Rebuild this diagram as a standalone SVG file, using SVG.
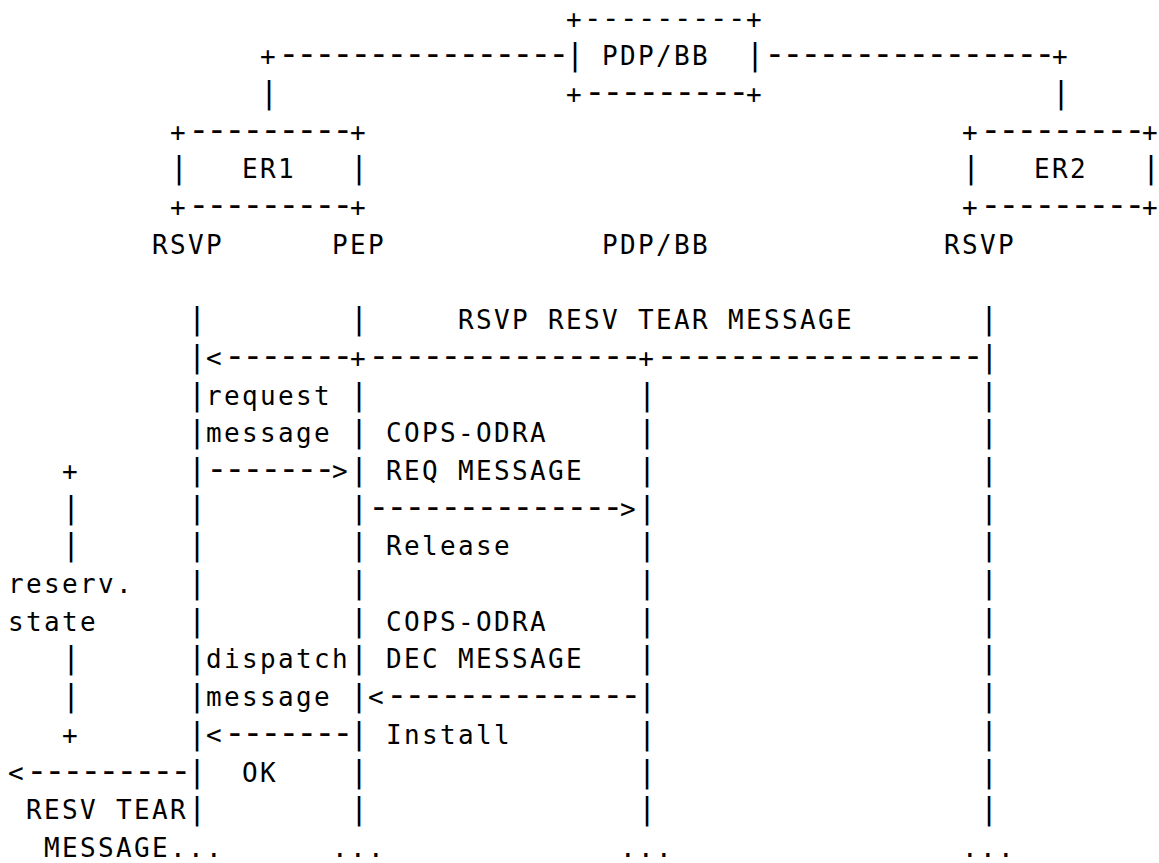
<svg xmlns="http://www.w3.org/2000/svg" width="1159" height="863" viewBox="0 0 1159 863">
  <style>
    /* monospaced grid: 18px per column, 37.7px per row */
    text { font-family: "DejaVu Sans Mono", "Liberation Mono", monospace; font-size: 26px; letter-spacing: 2.35px; fill: #000; white-space: pre; }
    /* dash runs and bars are set larger, kept on the same 18px pitch */
    .d { font-size: 36px; letter-spacing: -3.67px; }
    .d0 { font-size: 29px; letter-spacing: 0.54px; }
    .b { font-size: 30px; letter-spacing: -0.06px; }
  </style>
  <rect width="1159" height="863" fill="#fff"/>

  <!-- policy decision point / bandwidth broker -->
  <g id="pdp-bb">
    <text x="566" y="27.5">+<tspan class="d0">---------</tspan>+</text>
    <text x="566" y="65.2"><tspan class="b">|</tspan> PDP/BB  <tspan class="b">|</tspan></text>
    <text x="566" y="102.9">+<tspan class="d">---------</tspan>+</text>
  </g>

  <!-- edge router 1 -->
  <g id="er1">
    <text x="170" y="140.6">+<tspan class="d">---------</tspan>+</text>
    <text x="170" y="178.3"><tspan class="b">|</tspan>   ER1   <tspan class="b">|</tspan></text>
    <text x="170" y="216">+<tspan class="d">---------</tspan>+</text>
  </g>

  <!-- edge router 2 -->
  <g id="er2">
    <text x="962" y="140.6">+<tspan class="d">---------</tspan>+</text>
    <text x="962" y="178.3"><tspan class="b">|</tspan>   ER2   <tspan class="b">|</tspan></text>
    <text x="962" y="216">+<tspan class="d">---------</tspan>+</text>
  </g>

  <!-- column headings -->
  <g id="headings">
    <text x="152" y="253.7">RSVP</text>
    <text x="332" y="253.7">PEP</text>
    <text x="602" y="253.7">PDP/BB</text>
    <text x="944" y="253.7">RSVP</text>
  </g>

  <g id="connectors">
    <!-- links from the routers to PDP/BB -->
    <text x="260" y="65.2">+<tspan class="d">----------------</tspan></text>
    <text x="764" y="65.2"><tspan class="d">----------------</tspan>+</text>
    <text class="b" x="260" y="102.9">|</text>
    <text class="b" x="1052" y="102.9">|</text>

    <!-- lifeline: RSVP at ER1 -->
    <text class="b" x="188" y="329.1">|</text>
    <text class="b" x="188" y="404.5">|</text>
    <text class="b" x="188" y="442.2">|</text>
    <text class="b" x="188" y="517.6">|</text>
    <text class="b" x="188" y="555.3">|</text>
    <text class="b" x="188" y="593">|</text>
    <text class="b" x="188" y="630.7">|</text>
    <text class="b" x="188" y="668.4">|</text>
    <text class="b" x="188" y="706.1">|</text>
    <text class="b" x="188" y="819.2">|</text>

    <!-- lifeline: PEP -->
    <text class="b" x="350" y="329.1">|</text>
    <text class="b" x="350" y="404.5">|</text>
    <text class="b" x="350" y="442.2">|</text>
    <text class="b" x="350" y="555.3">|</text>
    <text class="b" x="350" y="593">|</text>
    <text class="b" x="350" y="630.7">|</text>
    <text class="b" x="350" y="668.4">|</text>
    <text class="b" x="350" y="781.5">|</text>
    <text class="b" x="350" y="819.2">|</text>

    <!-- lifeline: PDP/BB -->
    <text class="b" x="638" y="404.5">|</text>
    <text class="b" x="638" y="442.2">|</text>
    <text class="b" x="638" y="479.9">|</text>
    <text class="b" x="638" y="555.3">|</text>
    <text class="b" x="638" y="593">|</text>
    <text class="b" x="638" y="630.7">|</text>
    <text class="b" x="638" y="668.4">|</text>
    <text class="b" x="638" y="743.8">|</text>
    <text class="b" x="638" y="781.5">|</text>
    <text class="b" x="638" y="819.2">|</text>

    <!-- lifeline: RSVP at ER2 -->
    <text class="b" x="980" y="329.1">|</text>
    <text class="b" x="980" y="404.5">|</text>
    <text class="b" x="980" y="442.2">|</text>
    <text class="b" x="980" y="479.9">|</text>
    <text class="b" x="980" y="517.6">|</text>
    <text class="b" x="980" y="555.3">|</text>
    <text class="b" x="980" y="593">|</text>
    <text class="b" x="980" y="630.7">|</text>
    <text class="b" x="980" y="668.4">|</text>
    <text class="b" x="980" y="706.1">|</text>
    <text class="b" x="980" y="743.8">|</text>
    <text class="b" x="980" y="781.5">|</text>
    <text class="b" x="980" y="819.2">|</text>

    <!-- messages -->
    <text x="188" y="366.8"><tspan class="b">|</tspan>&lt;<tspan class="d">-------</tspan>+<tspan class="d">---------------</tspan>+<tspan class="d">------------------</tspan><tspan class="b">|</tspan></text>
    <text x="188" y="479.9"><tspan class="b">|</tspan><tspan class="d">-------</tspan>&gt;<tspan class="b">|</tspan></text>
    <text x="350" y="517.6"><tspan class="b">|</tspan><tspan class="d">--------------</tspan>&gt;<tspan class="b">|</tspan></text>
    <text x="350" y="706.1"><tspan class="b">|</tspan>&lt;<tspan class="d">--------------</tspan><tspan class="b">|</tspan></text>
    <text x="188" y="743.8"><tspan class="b">|</tspan>&lt;<tspan class="d">-------</tspan><tspan class="b">|</tspan></text>
    <text x="8" y="781.5">&lt;<tspan class="d">---------</tspan><tspan class="b">|</tspan></text>

    <!-- continuation marks -->
    <text x="332" y="856.9">...</text>
    <text x="620" y="856.9">...</text>
    <text x="962" y="856.9">...</text>
  </g>

  <!-- reservation state bracket -->
  <g id="reservation-state">
    <text x="62" y="479.9">+</text>
    <text class="b" x="62" y="517.6">|</text>
    <text class="b" x="62" y="555.3">|</text>
    <text x="8" y="593">reserv.</text>
    <text x="8" y="630.7">state</text>
    <text class="b" x="62" y="668.4">|</text>
    <text class="b" x="62" y="706.1">|</text>
    <text x="62" y="743.8">+</text>
  </g>

  <!-- message labels -->
  <g id="labels">
    <text x="458" y="329.1">RSVP RESV TEAR MESSAGE</text>
    <text x="206" y="404.5">request</text>
    <text x="206" y="442.2">message</text>
    <text x="386" y="442.2">COPS-ODRA</text>
    <text x="386" y="479.9">REQ MESSAGE</text>
    <text x="386" y="555.3">Release</text>
    <text x="386" y="630.7">COPS-ODRA</text>
    <text x="206" y="668.4">dispatch</text>
    <text x="386" y="668.4">DEC MESSAGE</text>
    <text x="206" y="706.1">message</text>
    <text x="386" y="743.8">Install</text>
    <text x="242" y="781.5">OK</text>
    <text x="26" y="819.2">RESV TEAR</text>
    <text x="44" y="856.9">MESSAGE...</text>
  </g>
</svg>
